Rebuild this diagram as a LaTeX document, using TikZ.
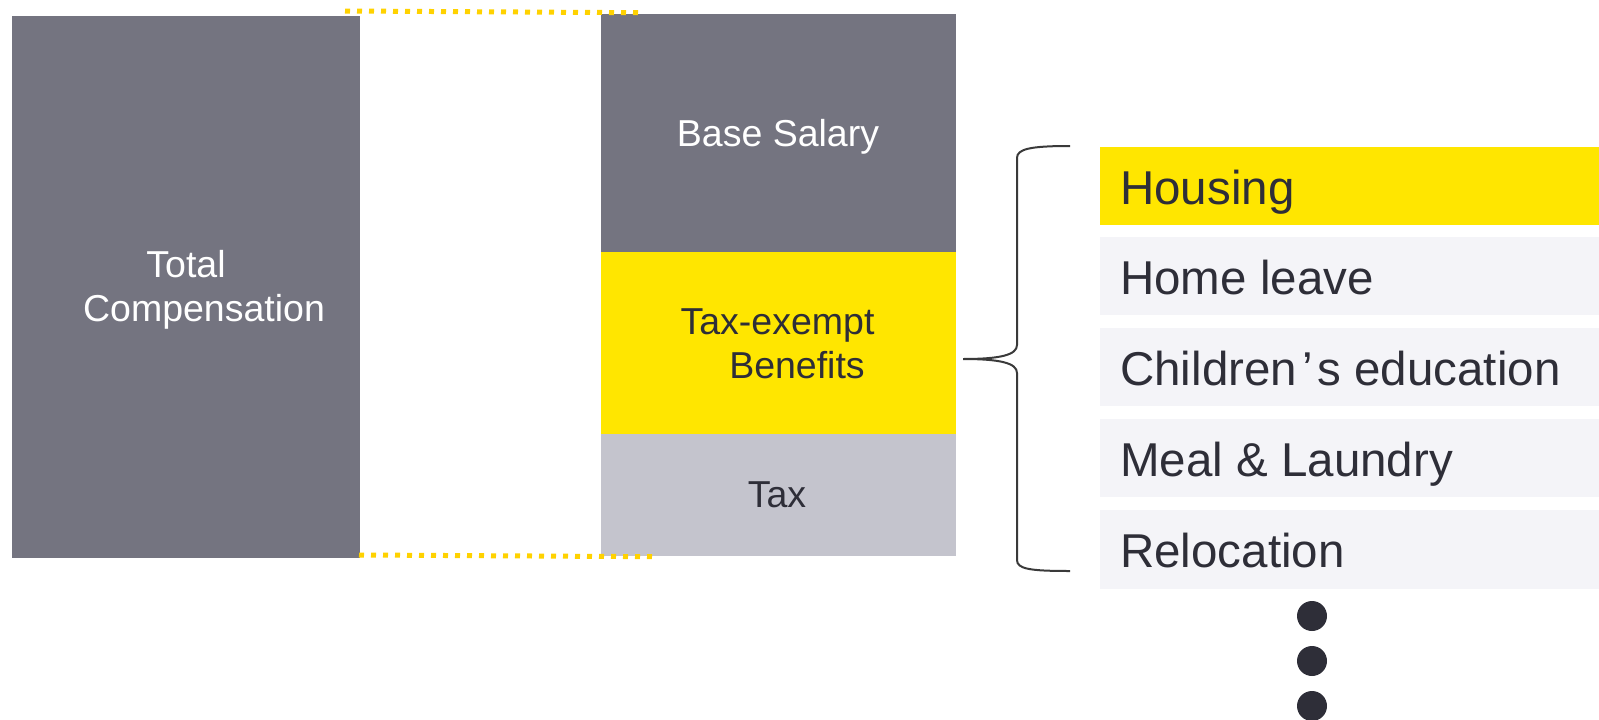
\documentclass[tikz,border=0pt]{standalone}
\usepackage{fontspec}
\setmainfont{Liberation Sans}
\definecolor{eygray}{HTML}{747480}
\definecolor{eyyellow}{HTML}{FFE600}
\definecolor{eylight}{HTML}{C4C4CD}
\definecolor{eylist}{HTML}{F4F4F8}
\definecolor{eydark}{HTML}{2E2E38}
\definecolor{eydot}{HTML}{FFD200}
\definecolor{bracecol}{HTML}{3A3A3A}
\begin{document}
\begin{tikzpicture}[x=1pt,y=-1pt,
  blk/.style={draw=none,inner sep=0pt,outer sep=0pt,anchor=north west},
  midtxt/.style={inner sep=0pt,anchor=base,font=\fontsize{37.5}{44}\selectfont},
  listtxt/.style={inner sep=0pt,anchor=base west,text=eydark,font=\fontsize{47.5}{56}\selectfont},
  listbox/.style={blk,fill=eylist,minimum width=499pt,minimum height=78.5pt},
  dotline/.style={draw=eydot,line width=5pt,dash pattern=on 5pt off 7pt},
  bracestyle/.style={draw=bracecol,line width=2pt},
  bullet/.style={circle,fill=eydark,inner sep=0pt,minimum size=30pt}]
\useasboundingbox (0,0) rectangle (1599,720);
% left block
\node[blk,fill=eygray,minimum width=348pt,minimum height=542pt] (total) at (12,16) {};
% right column
\node[blk,fill=eygray,minimum width=355pt,minimum height=238pt] (base) at (601,14) {};
\node[blk,fill=eyyellow,minimum width=355pt,minimum height=182pt] (exempt) at (601,252) {};
\node[blk,fill=eylight,minimum width=355pt,minimum height=122pt] (tax) at (601,434) {};
% dotted lines
\coordinate (d1) at (345,11);
\coordinate (d2) at (639,12.7);
\coordinate (d3) at (359,555);
\coordinate (d4) at (654,556.7);
\draw[dotline] (d1) -- (d2);
\draw[dotline] (d3) -- (d4);
% texts
\node[midtxt,text=white] (t1) at (186,277) {Total};
\node[midtxt,text=white] (t2) at (204,321) {Compensation};
\node[midtxt,text=white] (t3) at (778,146) {Base Salary};
\node[midtxt,text=eydark] (t4) at (777.5,334) {Tax-exempt};
\node[midtxt,text=eydark] (t5) at (797,378) {Benefits};
\node[midtxt,text=eydark] (t6) at (777,507) {Tax};
% list
\node[listbox,fill=eyyellow] (l1) at (1100,146.7) {};
\node[listbox] (l2) at (1100,236.7) {};
\node[listbox] (l3) at (1100,327.7) {};
\node[listbox] (l4) at (1100,418.7) {};
\node[listbox] (l5) at (1100,510) {};
\node[listtxt] (h1) at (1120,204) {Housing};
\node[listtxt] (h2) at (1120,294) {Home leave};
\node[listtxt] (h3) at (1120,385) {Children\kern5pt’\kern5pt s education};
\node[listtxt] (h4) at (1120,476) {Meal \& Laundry};
\node[listtxt] (h5) at (1120,567) {Relocation};
% brace
\coordinate (bt) at (1070,146);
\coordinate (bb) at (1070,571);
\coordinate (tip) at (963,359);
\draw[bracestyle] (bt) .. controls (1030,146) and (1017,149) .. (1017,158)
  -- (1017,345) .. controls (1017,355) and (1000,359) .. (tip)
  .. controls (1000,359) and (1017,363) .. (1017,373)
  -- (1017,560) .. controls (1017,569) and (1030,571) .. (bb);
% dots
\node[bullet] (b1) at (1312,616) {};
\node[bullet] (b2) at (1312,661) {};
\node[bullet] (b3) at (1312,706) {};
\end{tikzpicture}
\end{document}
